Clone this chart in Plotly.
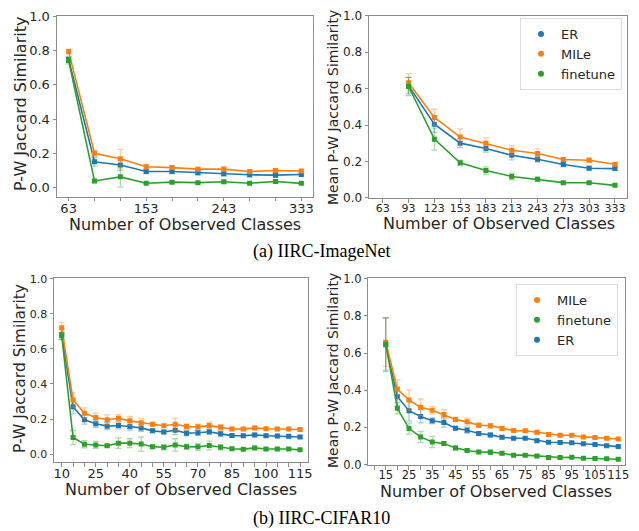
import plotly.graph_objects as go

BLUE = "#1f77b4"
ORANGE = "#ff7f0e"
GREEN = "#2ca02c"
FONT = "DejaVu Sans"

# page body adds an 8px margin, so the figure is a bit smaller than the window
W, H, OFF = 631, 523, 8

# (a) IIRC-ImageNet
in_classes = [63, 93, 123, 153, 183, 213, 243, 273, 303, 333]
in_er = [0.748, 0.150, 0.131, 0.093, 0.093, 0.086, 0.080, 0.074, 0.072, 0.076]
in_er_err = [0.015, 0.025, 0.030, 0.012, 0.012, 0.012, 0.012, 0.012, 0.010, 0.008]
in_mile = [0.794, 0.200, 0.168, 0.121, 0.116, 0.107, 0.107, 0.093, 0.099, 0.096]
in_mile_err = [0.015, 0.020, 0.055, 0.015, 0.012, 0.010, 0.015, 0.010, 0.012, 0.008]
in_ft = [0.742, 0.038, 0.062, 0.025, 0.031, 0.028, 0.033, 0.025, 0.035, 0.024]
in_ft_err = [0.020, 0.010, 0.060, 0.005, 0.008, 0.006, 0.010, 0.005, 0.008, 0.005]

in_mean_classes = [93, 123, 153, 183, 213, 243, 273, 303, 333]
in_mean_er = [0.617, 0.405, 0.301, 0.272, 0.234, 0.212, 0.184, 0.163, 0.161]
in_mean_er_err = [0.045, 0.045, 0.025, 0.020, 0.025, 0.015, 0.012, 0.012, 0.010]
in_mean_mile = [0.633, 0.442, 0.334, 0.300, 0.262, 0.244, 0.211, 0.207, 0.185]
in_mean_mile_err = [0.050, 0.045, 0.045, 0.030, 0.025, 0.025, 0.010, 0.012, 0.006]
in_mean_ft = [0.612, 0.323, 0.193, 0.151, 0.118, 0.102, 0.084, 0.083, 0.069]
in_mean_ft_err = [0.050, 0.060, 0.015, 0.020, 0.018, 0.012, 0.006, 0.006, 0.005]
in_mean_ticks = [63, 93, 123, 153, 183, 213, 243, 273, 303, 333]

# (b) IIRC-CIFAR10
cf_classes = [10, 15, 20, 25, 30, 35, 40, 45, 50, 55, 60,
              65, 70, 75, 80, 85, 90, 95, 100, 105, 110, 115]
cf_er = [0.682, 0.270, 0.196, 0.173, 0.160, 0.164, 0.158, 0.150, 0.133, 0.127, 0.137,
         0.120, 0.122, 0.128, 0.116, 0.106, 0.105, 0.110, 0.105, 0.104, 0.102, 0.098]
cf_er_err = [0.030, 0.040, 0.025, 0.020, 0.020, 0.020, 0.020, 0.020, 0.010, 0.010, 0.025,
             0.015, 0.015, 0.015, 0.015, 0.008, 0.008, 0.010, 0.008, 0.008, 0.008, 0.008]
cf_mile = [0.720, 0.309, 0.234, 0.209, 0.196, 0.205, 0.190, 0.179, 0.171, 0.162, 0.171,
           0.158, 0.156, 0.163, 0.153, 0.144, 0.143, 0.150, 0.145, 0.143, 0.143, 0.141]
cf_mile_err = [0.030, 0.040, 0.030, 0.025, 0.028, 0.020, 0.025, 0.025, 0.010, 0.010, 0.035,
               0.015, 0.015, 0.020, 0.015, 0.010, 0.008, 0.010, 0.008, 0.008, 0.008, 0.008]
cf_ft = [0.675, 0.095, 0.057, 0.053, 0.048, 0.063, 0.063, 0.058, 0.043, 0.040, 0.053,
         0.043, 0.042, 0.050, 0.040, 0.031, 0.029, 0.036, 0.030, 0.030, 0.030, 0.025]
cf_ft_err = [0.020, 0.040, 0.020, 0.020, 0.008, 0.030, 0.025, 0.040, 0.010, 0.015, 0.035,
             0.015, 0.020, 0.025, 0.015, 0.008, 0.006, 0.010, 0.008, 0.008, 0.008, 0.006]
cf_ticks = list(range(10, 116, 5))
cf_labels = [10, 25, 40, 55, 70, 85, 100, 115]

cf_mean_classes = [15, 20, 25, 30, 35, 40, 45, 50, 55, 60, 65,
                   70, 75, 80, 85, 90, 95, 100, 105, 110, 115]
cf_mean_mile = [0.658, 0.406, 0.347, 0.308, 0.293, 0.270, 0.243, 0.230, 0.212, 0.209, 0.194,
                0.183, 0.182, 0.174, 0.162, 0.158, 0.158, 0.149, 0.146, 0.142, 0.138]
cf_mean_mile_err = [0.130, 0.050, 0.055, 0.045, 0.020, 0.025, 0.012, 0.020, 0.012, 0.012, 0.010,
                    0.008, 0.008, 0.010, 0.008, 0.008, 0.008, 0.006, 0.006, 0.006, 0.006]
cf_mean_ft = [0.648, 0.303, 0.194, 0.149, 0.122, 0.113, 0.090, 0.076, 0.068, 0.067, 0.061,
              0.051, 0.051, 0.047, 0.039, 0.038, 0.040, 0.034, 0.033, 0.031, 0.029]
cf_mean_ft_err = [0.140, 0.030, 0.030, 0.030, 0.030, 0.010, 0.010, 0.008, 0.008, 0.012, 0.008,
                  0.006, 0.006, 0.006, 0.005, 0.005, 0.005, 0.005, 0.005, 0.005, 0.005]
cf_mean_er = [0.645, 0.365, 0.290, 0.259, 0.236, 0.227, 0.196, 0.185, 0.167, 0.160, 0.147,
              0.142, 0.142, 0.129, 0.120, 0.119, 0.117, 0.112, 0.108, 0.101, 0.097]
cf_mean_er_err = [0.145, 0.050, 0.055, 0.035, 0.015, 0.025, 0.010, 0.015, 0.010, 0.010, 0.008,
                  0.006, 0.006, 0.008, 0.006, 0.006, 0.006, 0.005, 0.005, 0.005, 0.005]
cf_mean_ticks = list(range(10, 116, 5))
cf_mean_labels = list(range(15, 116, 10))

y_ticks = [0.0, 0.2, 0.4, 0.6, 0.8, 1.0]


def px_x(v):
    return (v - OFF) / W


def px_y(v):
    return 1 - (v - OFF) / H


def fade(hex_color, alpha=0.4):
    r, g, b = (int(hex_color[i:i + 2], 16) for i in (1, 3, 5))
    return f"rgba({r},{g},{b},{alpha})"


def add_series(fig, x, y, err, color, axis):
    xa, ya = axis
    fig.add_trace(go.Scatter(
        x=x, y=y, mode="lines+markers", showlegend=False,
        line=dict(color=color, width=1.6),
        marker=dict(color=color, size=5, symbol="square"),
        error_y=dict(type="data", array=err, color=fade(color), thickness=1.3, width=3),
        xaxis=xa, yaxis=ya,
    ))


def add_legend_entry(fig, name, color, legend):
    fig.add_trace(go.Scatter(
        x=[None], y=[None], mode="markers", name=name,
        marker=dict(color=color, size=6), legend=legend,
        xaxis="x2", yaxis="y2",
    ))


def tick_text(vals, shown):
    return [str(v) if v in shown else "" for v in vals]


fig = go.Figure()

add_series(fig, in_classes, in_er, in_er_err, BLUE, ("x", "y"))
add_series(fig, in_classes, in_mile, in_mile_err, ORANGE, ("x", "y"))
add_series(fig, in_classes, in_ft, in_ft_err, GREEN, ("x", "y"))

add_series(fig, in_mean_classes, in_mean_er, in_mean_er_err, BLUE, ("x2", "y2"))
add_series(fig, in_mean_classes, in_mean_mile, in_mean_mile_err, ORANGE, ("x2", "y2"))
add_series(fig, in_mean_classes, in_mean_ft, in_mean_ft_err, GREEN, ("x2", "y2"))

add_series(fig, cf_classes, cf_er, cf_er_err, BLUE, ("x3", "y3"))
add_series(fig, cf_classes, cf_mile, cf_mile_err, ORANGE, ("x3", "y3"))
add_series(fig, cf_classes, cf_ft, cf_ft_err, GREEN, ("x3", "y3"))

add_series(fig, cf_mean_classes, cf_mean_er, cf_mean_er_err, BLUE, ("x4", "y4"))
add_series(fig, cf_mean_classes, cf_mean_mile, cf_mean_mile_err, ORANGE, ("x4", "y4"))
add_series(fig, cf_mean_classes, cf_mean_ft, cf_mean_ft_err, GREEN, ("x4", "y4"))

add_legend_entry(fig, "ER", BLUE, "legend")
add_legend_entry(fig, "MILe", ORANGE, "legend")
add_legend_entry(fig, "finetune", GREEN, "legend")
add_legend_entry(fig, "MILe", ORANGE, "legend2")
add_legend_entry(fig, "finetune", GREEN, "legend2")
add_legend_entry(fig, "ER", BLUE, "legend2")

axis_common = dict(automargin=False, ticklabeloverflow="allow",
                   showgrid=False, zeroline=False, showline=True, mirror=True,
                   linecolor="#8c8c8c", linewidth=1, ticks="outside", ticklen=3.5,
                   tickcolor="#8c8c8c")


def x_axis(left, right, rng, vals, text, size, anchor):
    return dict(domain=[px_x(left), px_x(right)], range=rng, anchor=anchor,
                tickvals=vals, ticktext=text, tickangle=0, ticklabelstandoff=-4,
                tickfont=dict(family=FONT, size=size, color="#262626"), **axis_common)


def y_axis(top, bottom, rng, size, anchor):
    return dict(domain=[px_y(bottom), px_y(top)], range=rng, anchor=anchor,
                tickvals=y_ticks, tickformat=".1f",
                tickfont=dict(family=FONT, size=size, color="#262626"), **axis_common)


legend_style = dict(bgcolor="white", bordercolor="#dddddd", borderwidth=1,
                    xanchor="right", yanchor="top", itemwidth=30,
                    font=dict(family=FONT, size=13, color="#262626"))

fig.update_layout(
    width=W, height=H,
    margin=dict(l=0, r=0, t=0, b=0, autoexpand=False),
    plot_bgcolor="white", paper_bgcolor="white",
    xaxis=x_axis(57, 313, [49.5, 346.5], in_classes,
                 tick_text(in_classes, [63, 153, 243, 333]), 13, "y"),
    yaxis=y_axis(16, 196.7, [-0.054, 1.002], 13, "x"),
    xaxis2=x_axis(369, 627, [47, 347], in_mean_ticks,
                  [str(v) for v in in_mean_ticks], 11, "y2"),
    yaxis2=y_axis(15.5, 198.3, [-0.002, 1.002], 12, "x2"),
    xaxis3=x_axis(54, 308, [6.6, 118.5], cf_ticks,
                  tick_text(cf_ticks, cf_labels), 13, "y3"),
    yaxis3=y_axis(278.3, 462.3, [-0.046, 1.002], 11, "x3"),
    xaxis4=x_axis(368.3, 625, [7.5, 117.9], cf_mean_ticks,
                  tick_text(cf_mean_ticks, cf_mean_labels), 11.5, "y4"),
    yaxis4=y_axis(278.3, 465, [-0.002, 1.002], 11.5, "x4"),
    legend=dict(x=px_x(622), y=px_y(18), **legend_style),
    legend2=dict(x=px_x(618), y=px_y(284), **legend_style),
)

titles = [
    ("Number of Observed Classes", 185, 224, 16, 0),
    ("Number of Observed Classes", 499, 223, 16, 0),
    ("Number of Observed Classes", 181, 489, 16, 0),
    ("Number of Observed Classes", 496, 491, 16, 0),
    ("P-W Jaccard Similarity", 20, 104, 16, -90),
    ("Mean P-W Jaccard Similarity", 333, 108, 14, -90),
    ("P-W Jaccard Similarity", 20, 369, 15.5, -90),
    ("Mean P-W Jaccard Similarity", 333, 371, 14, -90),
]
for text, tx, ty, size, angle in titles:
    fig.add_annotation(text=text, x=px_x(tx), y=px_y(ty), xref="paper", yref="paper",
                       showarrow=False, textangle=angle, xanchor="center", yanchor="middle",
                       font=dict(family=FONT, size=size, color="#262626"))

for text, ty in [("(a) IIRC-ImageNet", 251), ("(b) IIRC-CIFAR10", 518)]:
    fig.add_annotation(text=text, x=px_x(321), y=px_y(ty), xref="paper", yref="paper",
                       showarrow=False, xanchor="center", yanchor="middle",
                       font=dict(family="Liberation Serif", size=18, color="black"))

fig.write_html("out.html")
